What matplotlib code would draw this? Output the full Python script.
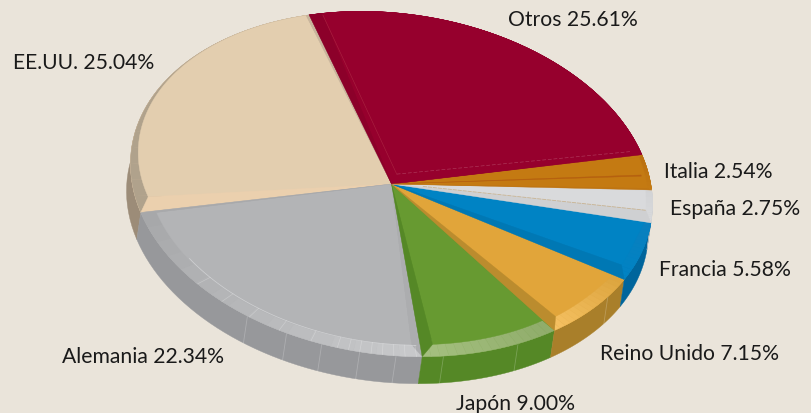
#!/usr/bin/env python3
# Tilted 3D pie drawn by hand: one unit circle, mapped onto the page with an affine transform
import numpy as np
import matplotlib
matplotlib.use("Agg")
import matplotlib.pyplot as plt
from matplotlib.patches import Polygon
from matplotlib.transforms import Affine2D

names = ["EE.UU.", "Alemania", "Japón", "Reino Unido", "Francia", "España", "Italia", "Otros"]
shares = [25.04, 22.34, 9.00, 7.15, 5.58, 2.75, 2.54, 25.61]

face_colors = ["#e3ceaf", "#b3b4b6", "#679a31", "#e1a53a", "#0083c4", "#d9dadc", "#c47a12", "#96002d"]
wall_colors = ["#9c8c78", "#97989b", "#558826", "#a97f2a", "#00659c", "#b9babc", "#a4650e", "#7a0024"]
start_colors = ["#c8b49c", "#a8a9ab", "#558826", "#bb8c2e", "#0078b4", "#cfd0d2", "#bf7512", "#96002d"]
end_colors = ["#ebd0ae", "#acadaf", "#679a31", "#e1a53a", "#0083c4", "#d9dadc", "#c47a12", "#8c002a"]
rim_from = ["#b0a28c", "#a6a7a9", "#a5c080", "#f6c263", "#0083c4", "#d9dadc", "#c47a12", "#96002d"]
rim_to = ["#b0a28c", "#c8c9cb", "#8fac6a", "#dca43e", "#0a7fbe", "#d2d3d5", "#b96f10", "#96002d"]

# bevel widths per slice: degrees at each radial edge, radius of the flat face at both ends
start_inset = [0.7, 0.6, 3.0, 3.3, 4.2, 4.0, 0.5, 0.3]
end_inset = [5.0, 2.0, 0.2, 0.2, 0.2, 0.2, 0.8, 3.0]
rim_start = [1.0, 0.94, 0.93, 0.94, 0.955, 0.975, 0.985, 1.0]
rim_end = [0.95, 0.93, 0.93, 0.95, 0.975, 0.975, 0.985, 1.0]

# faint joints on the walls, in degrees round the pie
wall_ticks = [[], [236.5, 246.3, 254.5, 263, 271], [281.5, 299], [326], [], [], [], []]

label_x = [13, 62, 456, 600, 659, 670, 664, 508]
label_y = [63, 357, 404, 354, 270, 209, 172, 20]

BACKGROUND = "#eae4da"
START_ANGLE = 107.0
# the original is a little off a true circle, these pull each slice edge onto it
EDGE_NUDGE = [1.4, -1.0, -0.8, -1.3, -2.6, -2.1, -1.0, 1.6, 1.4]
CENTER = (391.5, 185)
DEPTH = (-4, 27)
EXTENT_X, SHEAR, EXTENT_Y = 261.0, 20.0, 171.5


def arc(a0, a1, r0=1.0, r1=None, n=40):
    """Points along an arc of the unit circle; radius can drift from r0 to r1."""
    r1 = r0 if r1 is None else r1
    t = np.linspace(0, 1, n)
    ang = np.radians(a0 + (a1 - a0) * t)
    r = r0 + (r1 - r0) * t ** 3
    return np.column_stack([r * np.cos(ang), r * np.sin(ang)])


fig = plt.figure(figsize=(8.12, 4.14), dpi=100, facecolor=BACKGROUND)
ax = fig.add_axes([0, 0, 1, 1])
ax.set_xlim(0, 812)
ax.set_ylim(414, 0)
ax.axis("off")

# y of the unit circle points up, the page axis points down
unit = Affine2D.from_values(EXTENT_X, SHEAR, 0, -EXTENT_Y, *CENTER)
top_tf = unit + ax.transData
wall_tf = unit + Affine2D().translate(*DEPTH) + ax.transData


def flat(points, color, zorder=3):
    ax.add_patch(Polygon(points, closed=True, facecolor=color, edgecolor=color,
                         linewidth=0.3, transform=top_tf, zorder=zorder))


def line(points, **style):
    page = ax.transData.inverted().transform(top_tf.transform(points))
    ax.plot(page[:, 0], page[:, 1], **style)


edges = START_ANGLE + np.concatenate([[0], np.cumsum(shares)]) * 3.6 / (sum(shares) / 100)
edges = edges + np.array(EDGE_NUDGE)
inv = ax.transData.inverted()

# walls first, the top face covers whatever is at the back
for i, color in enumerate(wall_colors):
    a0, a1 = edges[i], edges[i + 1]
    upper = top_tf.transform(arc(a0, a1))
    lower = wall_tf.transform(arc(a1, a0))
    ax.add_patch(Polygon(inv.transform(np.vstack([upper, lower])), closed=True,
                         facecolor=color, edgecolor=color, linewidth=0.3,
                         transform=ax.transData, zorder=1))
    for ang in wall_ticks[i]:
        p = top_tf.transform(arc(ang, ang, n=1))
        q = wall_tf.transform(arc(ang, ang, n=1))
        seg = inv.transform(np.vstack([p, q]))
        ax.plot(seg[:, 0], seg[:, 1], color="white", alpha=0.22, lw=0.6, zorder=2)

for i, color in enumerate(face_colors):
    a0, a1 = edges[i], edges[i + 1]
    f0, f1 = a0 + start_inset[i], a1 - end_inset[i]
    middle = (0.0, 0.0)

    # whole slice in the start bevel colour, then the other facets on top
    flat(np.vstack([[middle], arc(a0, a1)]), start_colors[i], 3)
    flat(np.vstack([[middle], arc(f0, a1)]), end_colors[i], 3)

    # rim, cut in small pieces so its colour can fade along the arc
    c0 = np.array(matplotlib.colors.to_rgb(rim_from[i]))
    c1 = np.array(matplotlib.colors.to_rgb(rim_to[i]))
    steps = 16
    cuts = np.linspace(a0, a1, steps + 1)
    for k in range(steps):
        part = (k + 0.5) / steps
        flat(np.vstack([arc(cuts[k], cuts[k + 1], n=4),
                        arc(cuts[k + 1], cuts[k], 0.9, n=4)]),
             c0 + (c1 - c0) * part, 4)

    inner = arc(f0, f1, rim_start[i], rim_end[i], n=80)
    flat(np.vstack([[middle], inner]), color, 5)

    # the start and end bevels run over the rim out to the corner
    flat(np.vstack([[middle], arc(a0, a0, n=1), inner[:1]]), start_colors[i], 5)
    flat(np.vstack([[middle], inner[-1:], arc(a1, a1, n=1)]), end_colors[i], 5)

# joints on the grey rim, closer together towards Japan
grey = names.index("Alemania")
line(arc(edges[grey] + 18, edges[grey + 1] - 1, 0.935, n=60), color="#d0d1d3", lw=0.5, zorder=6)
for ang in np.concatenate([np.arange(222, 258, 7.5), np.arange(258, 276, 2.5)]):
    line(np.vstack([arc(ang, ang, 0.935, n=1), arc(ang, ang, n=1)]),
         color="white", alpha=0.25, lw=0.5, zorder=6)

# Italia's streak and the faint seams on Otros and España
italia = names.index("Italia")
mid = (edges[italia] + edges[italia + 1]) / 2 - 1.0
flat(np.vstack([[(0.0, 0.0)], arc(mid - 0.2, mid + 0.2, 0.97, n=3)]), "#b5600f", 6)

otros = names.index("Otros")
corner = [(0.02, 0.06)]
line(np.vstack([corner, arc(edges[otros] + 1.5, edges[otros] + 1.5, 0.96, n=1)]),
     color="#b03a5c", lw=0.45, ls=(0, (6, 3)), zorder=6)
line(np.vstack([corner, arc(edges[otros + 1] - 3.0, edges[otros + 1] - 3.0, 0.99, n=1)]),
     color="#a8203f", lw=0.45, zorder=6)

spain = names.index("España")
seam = edges[spain] + start_inset[spain]
line(np.vstack([[(0.12, 0.0)], arc(seam, seam, 0.975, n=1)]),
     color="#c9b493", lw=0.6, ls=(0, (5, 1)), zorder=6)

for name, share, x, y in zip(names, shares, label_x, label_y):
    ax.text(x, y, f"{name} {share:.2f}%", ha="left", va="center", fontsize=15.2,
            family="Lato", color="#1a1a1a")

fig.savefig("out.png", dpi=100, facecolor=BACKGROUND)
